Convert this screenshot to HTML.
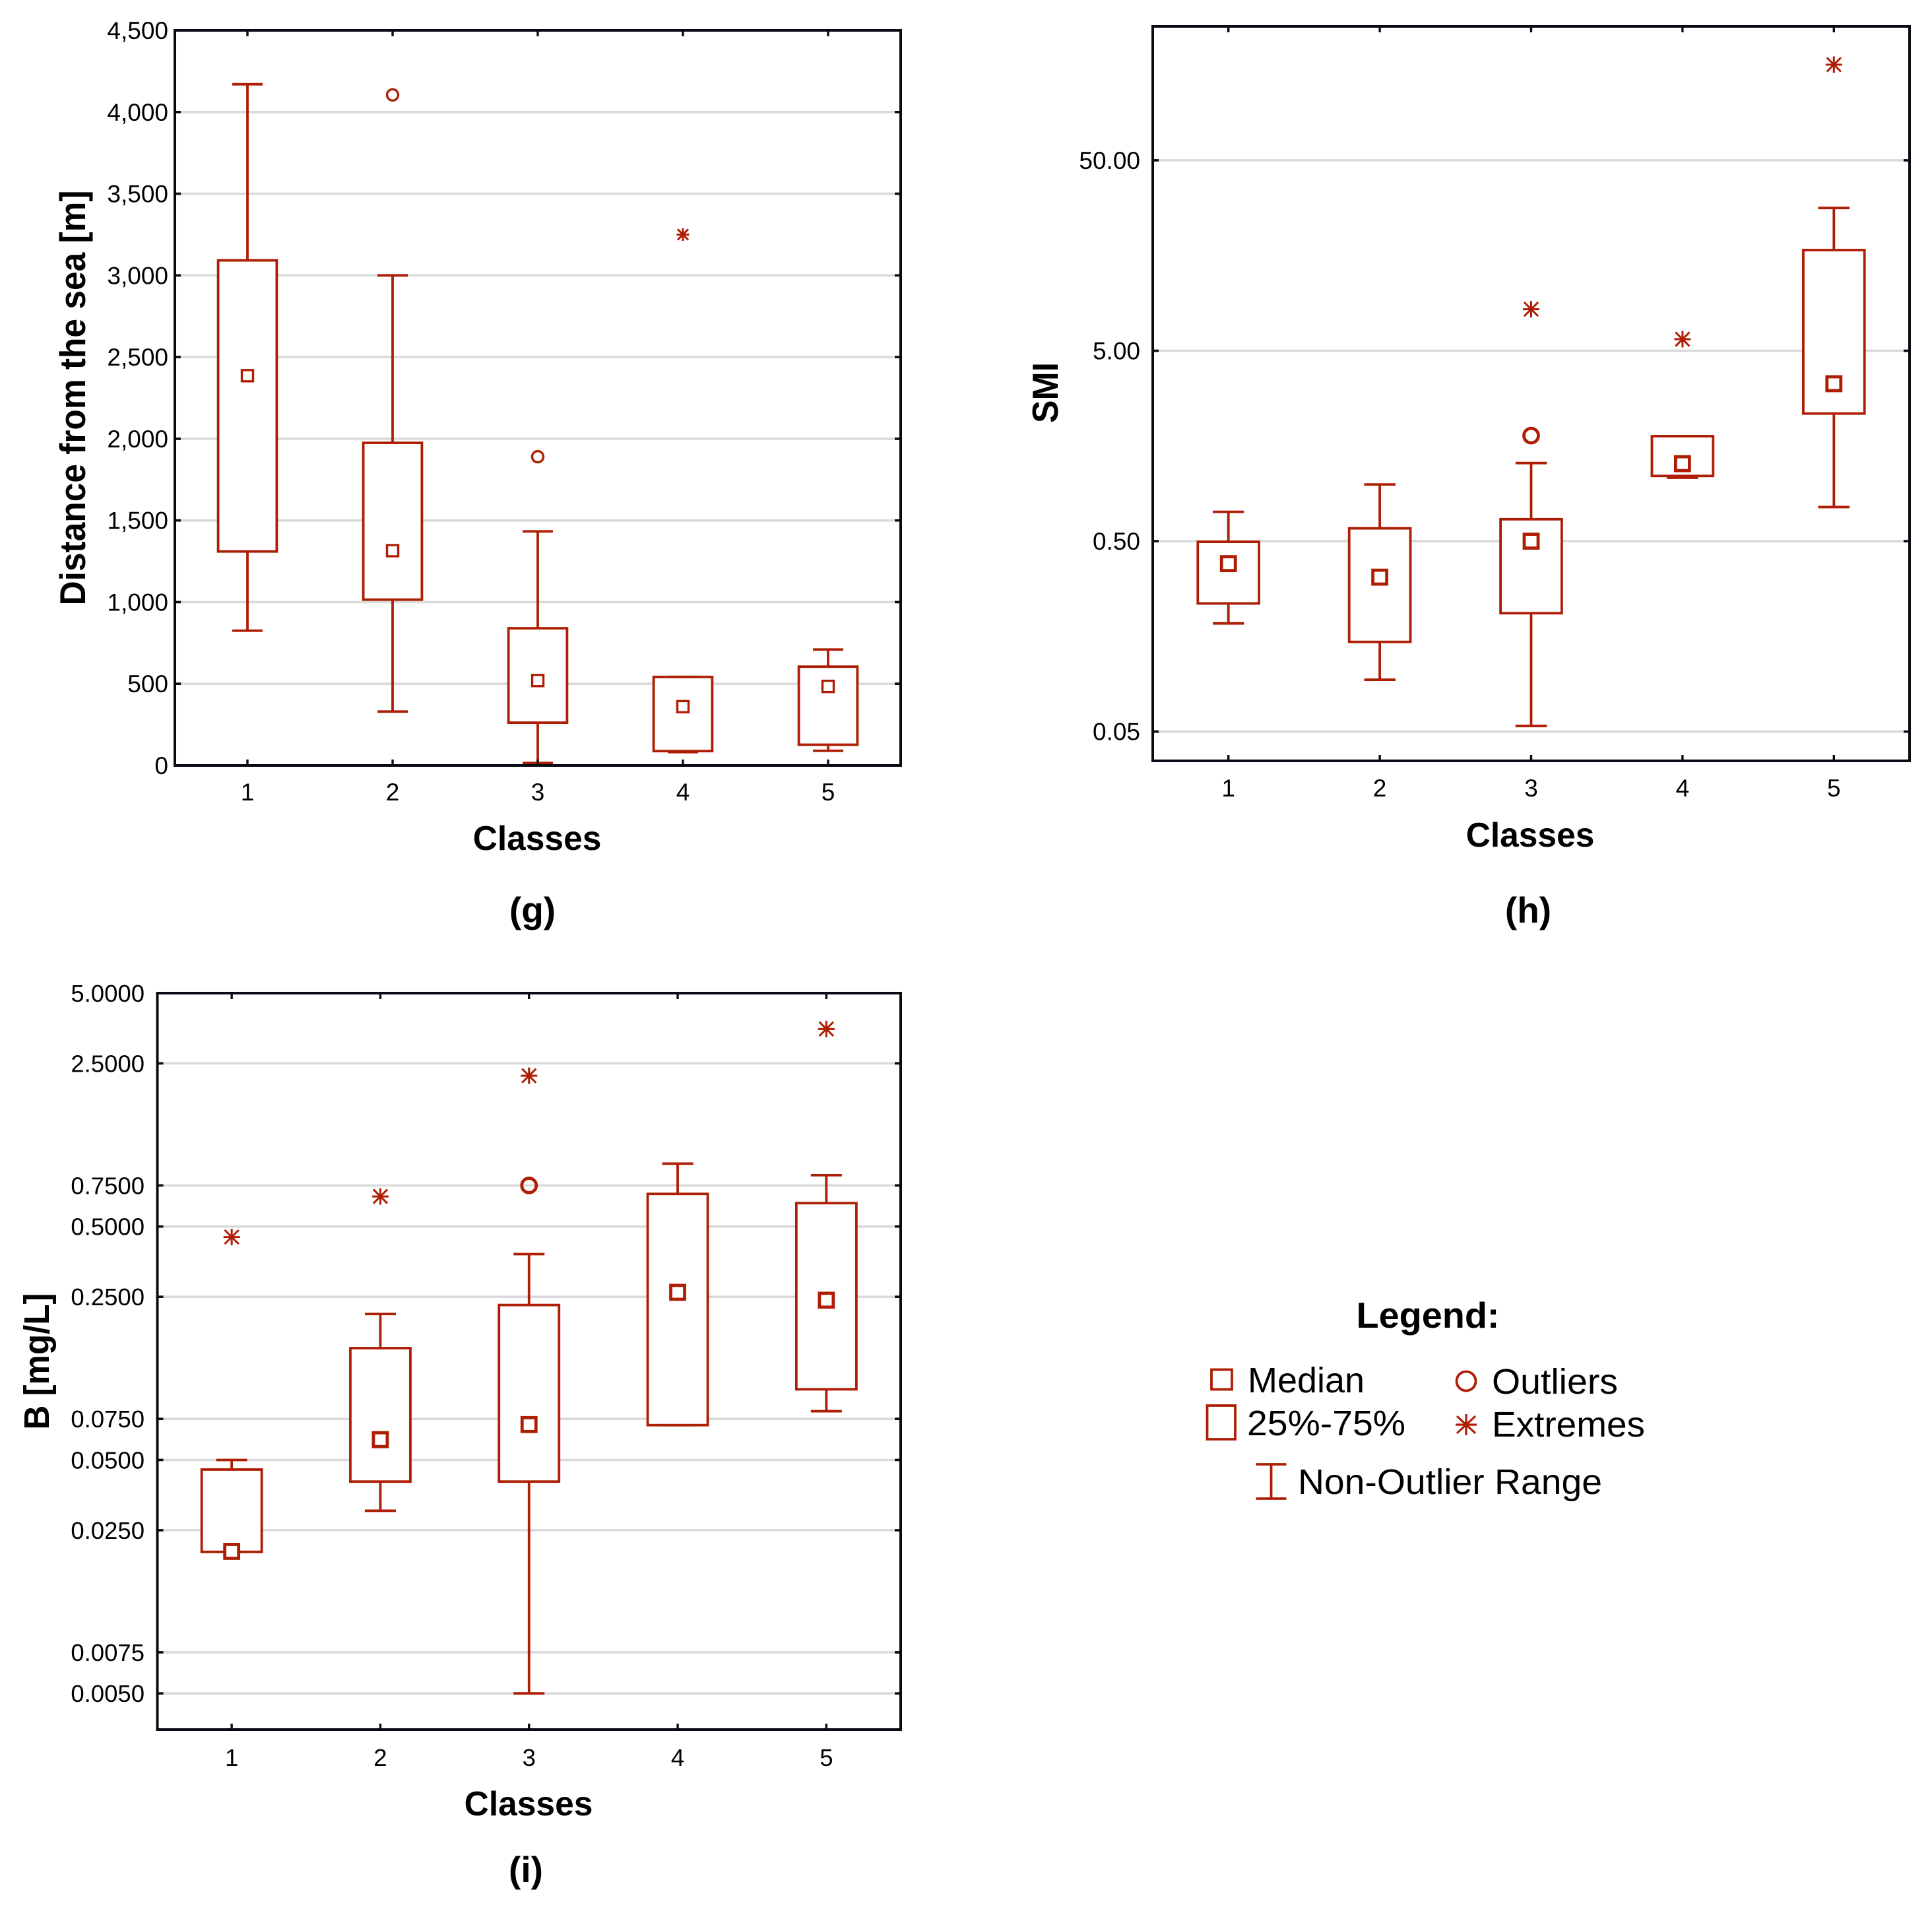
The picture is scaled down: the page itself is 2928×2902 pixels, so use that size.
<!DOCTYPE html>
<html lang="en">
<head>
<meta charset="utf-8">
<title>Box plots by class</title>
<style>
html,body{margin:0;padding:0;background:#fff;}
svg{display:block;font-family:"Liberation Sans",Arial,sans-serif;}
.bold{font-weight:bold;}
</style>
</head>
<body>
<svg id="figure" xmlns="http://www.w3.org/2000/svg" width="2928" height="2902" viewBox="0 0 2928 2902">
  <rect x="0" y="0" width="2928" height="2902" fill="#ffffff"/>
  <g id="chart-g"></g>
  <g id="chart-h"></g>
  <g id="chart-i"></g>

  <text class="bold" font-size="55" textLength="629" lengthAdjust="spacingAndGlyphs" text-anchor="middle" transform="translate(129 603) rotate(-90)">Distance from the sea [m]</text>
  <text class="bold" font-size="51.500" text-anchor="middle" x="814" y="1288">Classes</text>
  <text class="bold" font-size="55" text-anchor="middle" x="807" y="1398">(g)</text>

  <text class="bold" font-size="55" textLength="92" lengthAdjust="spacingAndGlyphs" text-anchor="middle" transform="translate(1603 595) rotate(-90)">SMI</text>
  <text class="bold" font-size="51.500" text-anchor="middle" x="2319" y="1283">Classes</text>
  <text class="bold" font-size="55" text-anchor="middle" x="2316" y="1398">(h)</text>

  <text class="bold" font-size="54" textLength="207" lengthAdjust="spacingAndGlyphs" text-anchor="middle" transform="translate(74 2063) rotate(-90)">B [mg/L]</text>
  <text class="bold" font-size="51.500" text-anchor="middle" x="801" y="2751">Classes</text>
  <text class="bold" font-size="55" text-anchor="middle" x="797" y="2852">(i)</text>

  <g>
    <text class="bold" font-size="55" textLength="217" lengthAdjust="spacingAndGlyphs" text-anchor="middle" x="2164" y="2012">Legend:</text>
    <rect x="1836" y="2075.500" width="31" height="30" fill="#fff" stroke="#ae1e05" stroke-width="3.800"/>
    <text font-size="54" textLength="177" lengthAdjust="spacingAndGlyphs" x="1891" y="2110">Median</text>
    <rect x="1829.500" y="2130" width="42.500" height="51" fill="#fff" stroke="#ae1e05" stroke-width="3.800"/>
    <text font-size="54" textLength="240" lengthAdjust="spacingAndGlyphs" x="1890" y="2175">25%-75%</text>
    <circle cx="2222" cy="2093" r="14.500" fill="none" stroke="#ae1e05" stroke-width="3.800"/>
    <text font-size="54" textLength="191" lengthAdjust="spacingAndGlyphs" x="2261" y="2112">Outliers</text>
    <path d="M2206 2159H2238M2222 2143V2175M2208 2146L2236 2172M2236 2146L2208 2172" fill="none" stroke="#ae1e05" stroke-width="3.200"/>
    <text font-size="54" textLength="232" lengthAdjust="spacingAndGlyphs" x="2261" y="2177">Extremes</text>
    <path d="M1903.500 2219H1949.500M1926.500 2219V2271M1903.500 2271H1949.500" fill="none" stroke="#ae1e05" stroke-width="3.800"/>
    <text font-size="54" textLength="461" lengthAdjust="spacingAndGlyphs" x="1967" y="2264">Non-Outlier Range</text>
  </g>
</svg>
<script>
// Shared categories
const classLabels = ['1', '2', '3', '4', '5'];

// Panel (g): distance from the sea
const gTicks = [0, 500, 1000, 1500, 2000, 2500, 3000, 3500, 4000, 4500];
const gTickLabels = ['0', '500', '1,000', '1,500', '2,000', '2,500', '3,000', '3,500', '4,000', '4,500'];
const gWhiskerHigh = [4170, 3000, 1433, 542, 710];
const gQ3 = [3092, 1975, 840, 542, 605];
const gMedian = [2386, 1315, 520, 360, 484];
const gQ1 = [1310, 1015, 262, 88, 127];
const gWhiskerLow = [825, 330, 15, 82, 90];
const gOutliers = [null, 4105, 1890, null, null];
const gExtremes = [null, null, null, 3250, null];

// Panel (h): SMI
const hTicks = [0.05, 0.5, 5, 50];
const hTickLabels = ['0.05', '0.50', '5.00', '50.00'];
const hWhiskerHigh = [0.713, 0.993, 1.286, 1.78, 28.1];
const hQ3 = [0.496, 0.584, 0.652, 1.78, 16.9];
const hMedian = [0.381, 0.3236, 0.5, 1.276, 3.356];
const hQ1 = [0.2355, 0.1479, 0.2093, 1.1, 2.34];
const hWhiskerLow = [0.185, 0.0936, 0.0535, 1.077, 0.755];
const hOutliers = [null, null, 1.792, null, null];
const hExtremes = [null, null, 8.26, 5.75, 159];

// Panel (i): B [mg/L]
const iTicks = [0.005, 0.0075, 0.025, 0.05, 0.075, 0.25, 0.5, 0.75, 2.5, 5];
const iTickLabels = ['0.0050', '0.0075', '0.0250', '0.0500', '0.0750', '0.2500', '0.5000', '0.7500', '2.5000', '5.0000'];
const iWhiskerHigh = [0.05, 0.211, 0.381, 0.93, 0.83];
const iQ3 = [0.0455, 0.1507, 0.2306, 0.69, 0.63];
const iMedian = [0.0203, 0.0611, 0.0709, 0.2613, 0.2418];
const iQ1 = [0.0202, 0.0404, 0.0404, 0.0705, 0.1004];
const iWhiskerLow = [0.0202, 0.0303, 0.005, 0.0705, 0.0809];
const iOutliers = [null, null, 0.75, null, null];
const iExtremes = [0.451, 0.673, 2.214, null, 3.51];

const SVG_NS = 'http://www.w3.org/2000/svg';
const RED = '#ae1e05';
const INK = '#0a0a14';

function make(parent, tag, attrs) {
  const el = document.createElementNS(SVG_NS, tag);
  for (const key in attrs) {
    el.setAttribute(key, attrs[key]);
  }
  parent.appendChild(el);
  return el;
}

function linearScale(lo, hi, bottom, top) {
  return function (v) {
    return bottom + (v - lo) / (hi - lo) * (top - bottom);
  };
}

function logScale(lo, hi, bottom, top) {
  return function (v) {
    return bottom + (Math.log10(v) - Math.log10(lo)) / (Math.log10(hi) - Math.log10(lo)) * (top - bottom);
  };
}

function drawChart(host, p) {
  const y = p.scale;
  const width = p.right - p.left;
  const x = function (i) {
    return p.left + (i + 0.5) / p.categories.length * width;
  };

  // gridlines
  p.ticks.forEach(function (t) {
    const gy = y(t);
    if (gy < p.top + 3 || gy > p.bottom - 3) return;
    const grid = make(host, 'line', { x1: p.left, x2: p.right, y1: gy, y2: gy, stroke: '#dadada', 'stroke-width': 3.6 });
    
    
  });

  // boxes, whiskers, points
  p.categories.forEach(function (label, i) {
    const cx = x(i);
    const boxTop = y(p.q3[i]);
    const boxBottom = y(p.q1[i]);
    const highY = y(p.whiskerHigh[i]);
    const lowY = y(p.whiskerLow[i]);

    const whisker = make(host, 'path', {
      d: 'M' + (cx - p.capHalf) + ' ' + highY + 'H' + (cx + p.capHalf) + 'M' + cx + ' ' + highY + 'V' + boxTop +
         'M' + cx + ' ' + boxBottom + 'V' + lowY + 'M' + (cx - p.capHalf) + ' ' + lowY + 'H' + (cx + p.capHalf),
      fill: 'none', stroke: RED, 'stroke-width': 3.8
    });
    
    

    const box = make(host, 'rect', {
      x: cx - p.boxHalf, y: boxTop, width: p.boxHalf * 2, height: boxBottom - boxTop,
      fill: '#ffffff', stroke: RED, 'stroke-width': 3.8
    });
    
    

    const half = p.medianSize / 2;
    const median = make(host, 'rect', {
      x: cx - half, y: y(p.median[i]) - half, width: half * 2, height: half * 2,
      fill: '#ffffff', stroke: RED, 'stroke-width': p.medianStroke
    });
    
    

    if (p.outliers[i] !== null) {
      const outlier = make(host, 'circle', {
        cx: cx, cy: y(p.outliers[i]), r: p.outlierRadius,
        fill: 'none', stroke: RED, 'stroke-width': p.medianStroke
      });
      
      
    }

    if (p.extremes[i] !== null) {
      const ey = y(p.extremes[i]);
      const s = p.extremeHalf;
      const d = s * 0.85;
      const extreme = make(host, 'path', {
        d: 'M' + (cx - s) + ' ' + ey + 'H' + (cx + s) + 'M' + cx + ' ' + (ey - s) + 'V' + (ey + s) +
           'M' + (cx - d) + ' ' + (ey - d) + 'L' + (cx + d) + ' ' + (ey + d) +
           'M' + (cx + d) + ' ' + (ey - d) + 'L' + (cx - d) + ' ' + (ey + d),
        fill: 'none', stroke: RED, 'stroke-width': 3
      });
      
      
    }

    // category ticks (bottom and top) and label
    const ticks = make(host, 'path', {
      d: 'M' + cx + ' ' + p.bottom + 'V' + (p.bottom - 9) + 'M' + cx + ' ' + p.top + 'V' + (p.top + 9),
      stroke: INK, 'stroke-width': 3.4, fill: 'none'
    });
    
    

    const text = make(host, 'text', { x: cx, y: p.xLabelBaseline, 'font-size': p.tickFont, 'text-anchor': 'middle', fill: '#000' });
    
    
    text.textContent = label;
  });

  // value ticks and labels
  p.ticks.forEach(function (t, i) {
    const ty = y(t);
    const mark = make(host, 'path', {
      d: 'M' + p.left + ' ' + ty + 'H' + (p.left + 9) + 'M' + p.right + ' ' + ty + 'H' + (p.right - 9),
      stroke: INK, 'stroke-width': 3.6, fill: 'none'
    });
    
    

    const text = make(host, 'text', { x: p.yLabelRight, y: ty + 13, 'font-size': p.tickFont, 'text-anchor': 'end', fill: '#000' });
    
    
    text.textContent = p.tickLabels[i];
  });

  // frame
  const frame = make(host, 'rect', {
    x: p.left, y: p.top, width: width, height: p.bottom - p.top,
    fill: 'none', stroke: INK, 'stroke-width': 4
  });
  
  
}

drawChart(document.getElementById('chart-g'), {
  left: 265, right: 1365, top: 46, bottom: 1160,
  scale: linearScale(0, 4500, 1160, 46),
  categories: classLabels, ticks: gTicks, tickLabels: gTickLabels,
  whiskerHigh: gWhiskerHigh, q3: gQ3, median: gMedian, q1: gQ1, whiskerLow: gWhiskerLow,
  outliers: gOutliers, extremes: gExtremes,
  boxHalf: 44.4, capHalf: 23, medianSize: 17, medianStroke: 3.4, outlierRadius: 8.5, extremeHalf: 9.5,
  tickFont: 37, yLabelRight: 255, xLabelBaseline: 1213
});

drawChart(document.getElementById('chart-h'), {
  left: 1747, right: 2894, top: 40, bottom: 1153,
  scale: logScale(0.0351, 252.5, 1153, 40),
  categories: classLabels, ticks: hTicks, tickLabels: hTickLabels,
  whiskerHigh: hWhiskerHigh, q3: hQ3, median: hMedian, q1: hQ1, whiskerLow: hWhiskerLow,
  outliers: hOutliers, extremes: hExtremes,
  boxHalf: 46.4, capHalf: 23.7, medianSize: 21, medianStroke: 4.8, outlierRadius: 11, extremeHalf: 12.5,
  tickFont: 37, yLabelRight: 1728, xLabelBaseline: 1207
});

drawChart(document.getElementById('chart-i'), {
  left: 238.5, right: 1365, top: 1505, bottom: 2621,
  scale: logScale(0.0035, 5, 2621, 1505),
  categories: classLabels, ticks: iTicks, tickLabels: iTickLabels,
  whiskerHigh: iWhiskerHigh, q3: iQ3, median: iMedian, q1: iQ1, whiskerLow: iWhiskerLow,
  outliers: iOutliers, extremes: iExtremes,
  boxHalf: 45.5, capHalf: 23.5, medianSize: 21, medianStroke: 4.8, outlierRadius: 11, extremeHalf: 12.5,
  tickFont: 36.5, yLabelRight: 219, xLabelBaseline: 2676
});
</script>
</body>
</html>
